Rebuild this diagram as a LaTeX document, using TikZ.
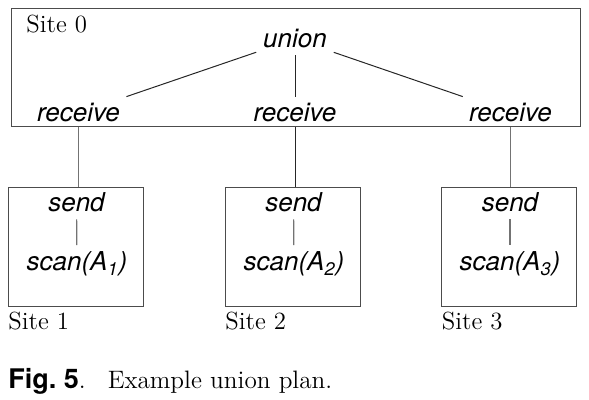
\documentclass[tikz,border=0pt]{standalone}
\usepackage{fontspec}
\newfontfamily\helv{TeX Gyre Heros}
\usepackage{tikz}
\usetikzlibrary{positioning}

\begin{document}
\begin{tikzpicture}[
  x=0.5pt, y=-0.5pt,
  site/.style={draw=black!70, line width=0.5pt, minimum width=67.5pt,
    minimum height=59.5pt, inner sep=0pt},
  op/.style={font=\fontsize{13}{15}\selectfont\helv\itshape, inner sep=3.3pt, anchor=base},
  sitename/.style={font=\fontsize{12.4}{14}\selectfont, inner sep=0pt, anchor=base west},
  link/.style={line width=0.5pt, black!85},
  uplink/.style={line width=0.6pt, black!55}
]
\useasboundingbox (0,0) rectangle (589,400);

% Site 0 with the union
\node[site, minimum width=284.5pt, minimum height=59pt] (site0) at (295.5,68) {};
\node[sitename] (name0) at (26,33) {Site 0};
\node[op] (union) at (295,48) {union};
\node[op] (recv1) at (78.5,122) {receive};
\node[op] (recv2) at (295,122) {receive};
\node[op] (recv3) at (510.5,122) {receive};

% Sites 1 to 3
\node[site] (site1) at (75.5,247.5) {};
\node[site] (site2) at (292.5,247.5) {};
\node[site] (site3) at (509,247.5) {};
\node[op] (send1) at (76.5,212) {send};
\node[op] (send2) at (293.5,212) {send};
\node[op] (send3) at (510,212) {send};
\node[op] (scan1) at (77,271) {scan(A\textsubscript{1})};
\node[op] (scan2) at (294,271) {scan(A\textsubscript{2})};
\node[op] (scan3) at (510,271) {scan(A\textsubscript{3})};
\node[sitename] (name1) at (8,330) {Site 1};
\node[sitename] (name2) at (225,330) {Site 2};
\node[sitename] (name3) at (441.5,330) {Site 3};

% Edges
\draw[link] (union) -- (recv1);
\draw[link] (union) -- (recv2);
\draw[link] (union) -- (recv3);
\draw[uplink] (recv1 |- site0.south) -- (recv1 |- site1.north);
\draw[link] (recv2 |- site0.south) -- (recv2 |- site2.north);
\draw[uplink] (recv3 |- site0.south) -- (recv3 |- site3.north);
\draw[uplink] (send1) -- (scan1);
\draw[uplink] (send2) -- (scan2);
\draw[uplink] (send3) -- (scan3);

% Caption
\node[sitename, font=\fontsize{12.6}{14}\selectfont] (caption) at (8,389)
  {{\helv\bfseries\fontsize{13.5}{14}\selectfont Fig.~5}.\hspace{11pt}Example union plan.};
\end{tikzpicture}
\end{document}
